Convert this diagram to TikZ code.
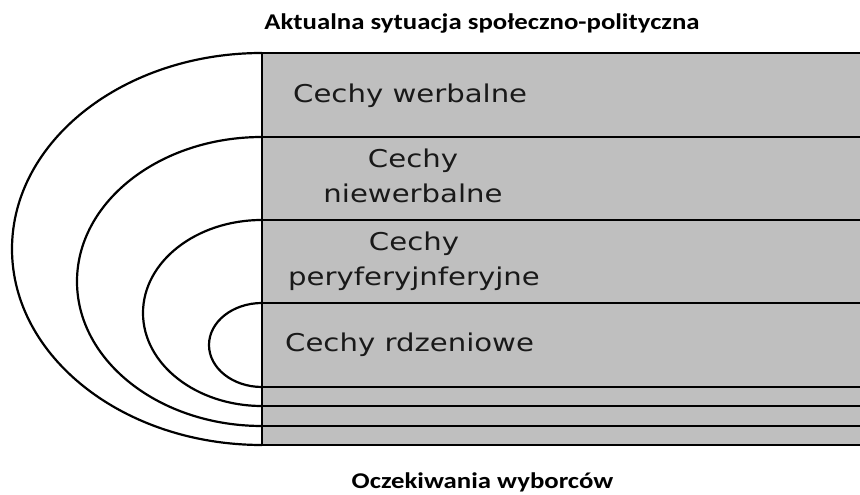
\documentclass[tikz,border=0pt]{standalone}
\usepackage{fontspec}
\usepackage{tikz}
\usetikzlibrary{positioning}
\newfontfamily\bandfont{DejaVu Sans}[FakeStretch=1.19]
\newfontfamily\titlefont{Carlito}[FakeStretch=1.19]

\begin{document}
\begin{tikzpicture}[x=1pt,y=1pt]
\tikzstyle{ring}=[line width=2.2pt, draw=black]
\tikzstyle{sep}=[line width=2.2pt, draw=black]
\tikzstyle{label}=[font=\bandfont\fontsize{24.5}{35}\selectfont, align=center, inner sep=0pt, text=black!90]
\tikzstyle{title}=[font=\titlefont\bfseries\fontsize{22.5}{27}\selectfont, inner sep=0pt]
  \useasboundingbox (0,0) rectangle (860,495);
  \fill[black!25] (262,50) rectangle (860,442);
  % nested half rings
  \draw[ring] (262,442) arc[start angle=90, end angle=270, x radius=250, y radius=196];
  \draw[ring] (262,358) arc[start angle=90, end angle=270, x radius=185, y radius=144.5];
  \draw[ring] (262,275) arc[start angle=90, end angle=270, x radius=119, y radius=93];
  \draw[ring] (262,192) arc[start angle=90, end angle=270, x radius=53, y radius=42];
  % band borders
  \foreach \y in {442,358,275,192,108,89,69,50}
    \draw[sep] (262,\y) -- (860,\y);
  \draw[sep] (262,48.9) -- (262,443.1);
  \node[label, anchor=base west] (werbal) at (293,392) {Cechy werbalne};
  \node[label] (niewerbal) at (413,319) {Cechy\\niewerbalne};
  \node[label] (peryf) at (414,234) {Cechy\\peryferyjnferyjne};
  \node[label, anchor=base west] (rdzen) at (285,143) {Cechy rdzeniowe};
  \node[title, anchor=base] (sytuacja) at (482,465) {Aktualna sytuacja społeczno-polityczna};
  \node[title, anchor=base] (oczek) at (482.5,6) {Oczekiwania wyborców};
\end{tikzpicture}
\end{document}
